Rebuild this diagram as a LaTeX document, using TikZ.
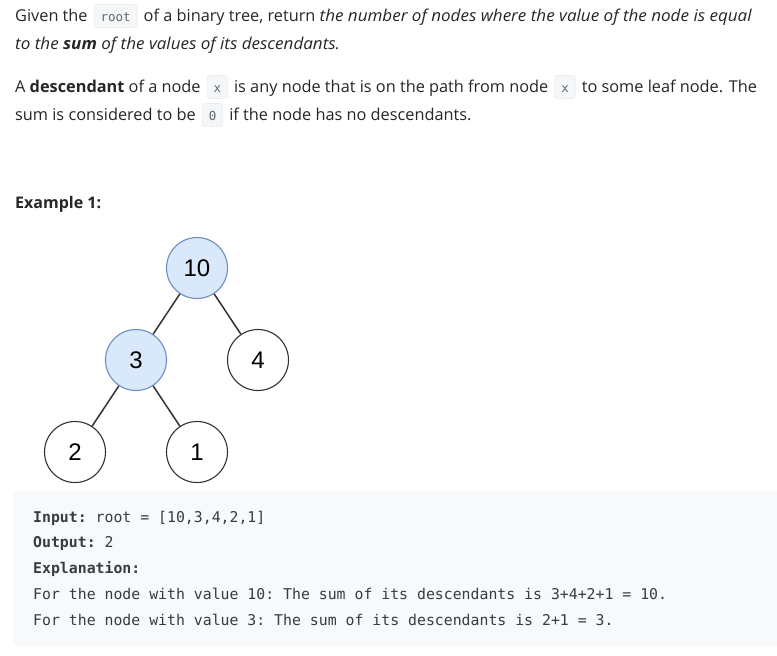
\documentclass[tikz,border=0pt]{standalone}
\usepackage{fontspec}
\setmainfont{Open Sans}[ItalicFeatures={FakeStretch=1.045}, BoldItalicFeatures={FakeStretch=1.045}]
\setmonofont{DejaVu Sans Mono}
\newfontfamily\treefont{Liberation Sans}
\usetikzlibrary{positioning}
\definecolor{lctext}{RGB}{38, 38, 38}
\definecolor{lccode}{RGB}{55, 60, 66}
\definecolor{lcinline}{RGB}{96, 104, 112}
\definecolor{lcinlinebg}{RGB}{245, 246, 247}
\definecolor{lcinlineline}{RGB}{234, 236, 238}
\definecolor{lcboxbg}{RGB}{247, 249, 250}
\definecolor{treeblue}{RGB}{218, 232, 252}
\definecolor{treeblueline}{RGB}{108, 142, 191}
\definecolor{treegray}{RGB}{51, 51, 51}

\begin{document}
\begin{tikzpicture}[x=1pt, y=-1pt,
		txt/.style={anchor=base west, inner sep=0pt, text=lctext, font=\fontsize{16.3}{20}\selectfont},
		inl/.style={anchor=base west, fill=lcinlinebg, draw=lcinlineline, line width=0.6pt, rounded corners=3pt,
			text=lcinline, font=\ttfamily\fontsize{12.5}{15}\selectfont, inner xsep=6.5pt, inner ysep=4.5pt,
			text height=12pt, text depth=2pt},
		mono/.style={anchor=base west, inner sep=0pt, text=lccode, font=\ttfamily\fontsize{14.83}{18}\selectfont},
		leaf/.style={circle, minimum size=61pt, inner sep=0pt, draw=treegray, fill=white, line width=1.1pt,
			font=\treefont\fontsize{24}{24}\selectfont},
		hit/.style={fill=treeblue, draw=treeblueline},
		edge/.style={draw=treegray, line width=1.5pt}]
			\fill [white] (0, 0) rectangle (777, 656);
			\useasboundingbox (0, 0) rectangle (777, 656);

			\node [txt] (l1a) at (15, 21) {Given the};
			\node [inl] (l1b) at ([xshift=6pt]l1a.base east) {root};
			\node [txt] (l1c) at ([xshift=6pt]l1b.base east) {of a binary tree, return \textit{the number of nodes where the value of the node is equal}};
			\node [txt] (l2) at (15, 49) {\textit{to the \textbf{sum} of the values of its descendants.}};
			\node [txt] (l3a) at (15, 92) {A \textbf{descendant} of a node};
			\node [inl] (l3b) at ([xshift=6pt]l3a.base east) {x};
			\node [txt] (l3c) at ([xshift=6pt]l3b.base east) {is any node that is on the path from node};
			\node [inl] (l3d) at ([xshift=6pt]l3c.base east) {x};
			\node [txt] (l3e) at ([xshift=6pt]l3d.base east) {to some leaf node. The};
			\node [txt] (l4a) at (15, 120) {sum is considered to be};
			\node [inl] (l4b) at ([xshift=6pt]l4a.base east) {0};
			\node [txt] (l4c) at ([xshift=6pt]l4b.base east) {if the node has no descendants.};

			\node [txt, font=\bfseries\fontsize{16}{20}\selectfont] (ex) at (15, 208) {Example 1:};

			\node [leaf, hit] (n10) at (197, 268) {10};
			\node [leaf, hit] (n3) at (136, 360) {3};
			\node [leaf] (n4) at (258, 360) {4};
			\node [leaf] (n2) at (75, 452) {2};
			\node [leaf] (n1) at (197, 452) {1};
			\draw [edge] (n10) -- (n3);
			\draw [edge] (n10) -- (n4);
			\draw [edge] (n3) -- (n2);
			\draw [edge] (n3) -- (n1);

			\fill [lcboxbg, rounded corners=5pt] (13, 491) rectangle (790, 646);
			\node [mono] (inp) at (33, 522) {\textbf{Input:} root = [10,3,4,2,1]};
			\node [mono] (outp) at (33, 547) {\textbf{Output:} 2};
			\node [mono] (expl) at (33, 573) {\textbf{Explanation:}};
			\node [mono] (why10) at (33, 599) {For the node with value 10: The sum of its descendants is 3+4+2+1 = 10.};
			\node [mono] (why3) at (33, 625) {For the node with value 3: The sum of its descendants is 2+1 = 3.};
		\end{tikzpicture}
\end{document}
